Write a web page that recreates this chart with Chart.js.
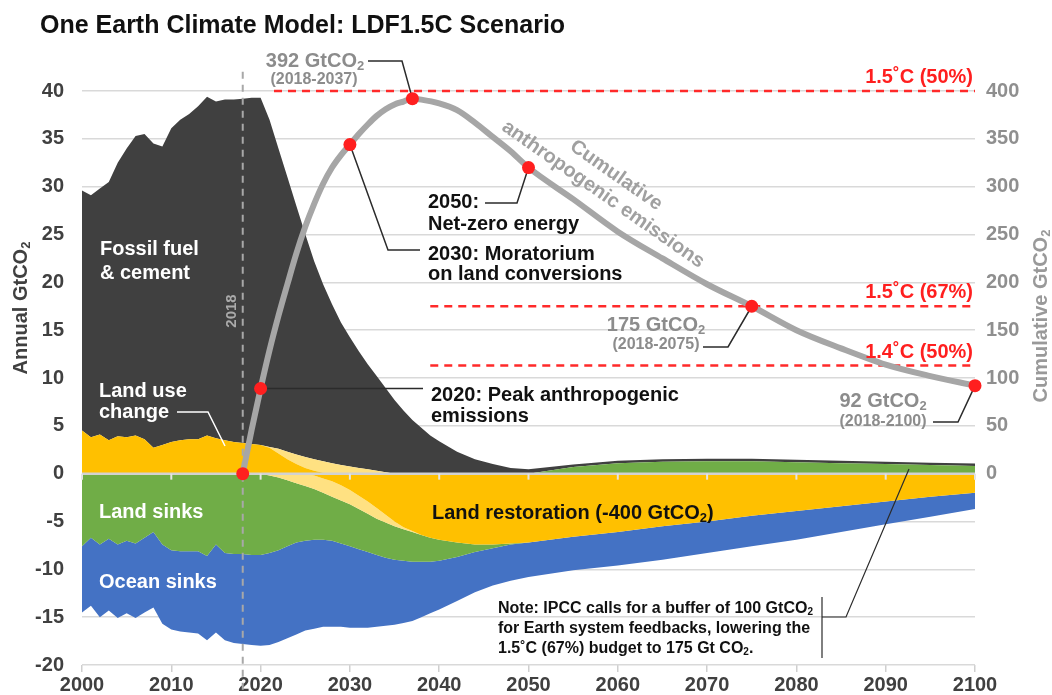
<!DOCTYPE html>
<html>
<head>
<meta charset="utf-8">
<title>One Earth Climate Model: LDF1.5C Scenario</title>
<script src="https://cdn.jsdelivr.net/npm/chart.js@4.4.1/dist/chart.umd.min.js"></script>
<style>
  html, body { margin: 0; padding: 0; background: #fff; }
  #wrap { position: relative; width: 1052px; height: 695px; }
</style>
</head>
<body>
<div id="wrap"><canvas id="climateChart"></canvas></div>
<script>
// ---- data (annual GtCO2) ----
const years = [2000, 2001, 2002, 2003, 2004, 2005, 2006, 2007, 2008, 2009,
  2010, 2011, 2012, 2013, 2014, 2015, 2016, 2017, 2018, 2019,
  2020, 2021, 2022, 2023, 2024, 2025, 2026, 2027, 2028, 2029,
  2030, 2031, 2032, 2033, 2034, 2035, 2036, 2037, 2038, 2039,
  2040, 2042, 2044, 2046, 2048, 2050,
  2055, 2060, 2065, 2070, 2075, 2080, 2085, 2090, 2095, 2100];

const fossil = [25.1, 25.3, 25.7, 27.0, 28.6, 30.2, 31.3, 31.9, 31.8, 31.2,
  32.8, 33.5, 34.0, 34.8, 35.4, 35.2, 35.6, 35.8, 36.0, 36.2,
  36.3, 34.2, 31.4, 28.7, 26.0, 23.3, 20.7, 18.5, 16.6, 14.9,
  13.5, 12.2, 11.0, 9.9, 8.8, 7.7, 6.6, 5.6, 4.8, 4.0,
  3.4, 2.3, 1.5, 1.0, 0.6, 0.45,
  0.25, 0.25, 0.25, 0.25, 0.25, 0.25, 0.25, 0.25, 0.25, 0.25];

const landUse = [4.5, 3.8, 4.1, 3.5, 3.9, 3.8, 4.0, 3.6, 2.7, 3.0,
  3.3, 3.5, 3.6, 3.6, 4.0, 3.7, 3.5, 3.3, 3.2, 3.1,
  3.0, 2.7, 2.1, 1.5, 1.0, 0.6, 0.3, 0.1, 0, 0,
  0, 0, 0, 0, 0, 0, 0, 0, 0, 0,
  0, 0, 0, 0, 0, 0,
  0, 0, 0, 0, 0, 0, 0, 0, 0, 0];

const landUsePhaseOut = [0, 0, 0, 0, 0, 0, 0, 0, 0, 0,
  0, 0, 0, 0, 0, 0, 0, 0, 0, 0,
  0, 0.1, 0.5, 0.8, 1.0, 1.15, 1.2, 1.2, 1.1, 0.9,
  0.75, 0.6, 0.45, 0.3, 0.15, 0, 0, 0, 0, 0,
  0, 0, 0, 0, 0, 0,
  0, 0, 0, 0, 0, 0, 0, 0, 0, 0];

const landGain = [0, 0, 0, 0, 0, 0, 0, 0, 0, 0,
  0, 0, 0, 0, 0, 0, 0, 0, 0, 0,
  0, 0, 0, 0, 0, 0, 0, 0, 0, 0,
  0, 0, 0, 0, 0, 0, 0, 0, 0, 0,
  0, 0, 0, 0, 0, 0,
  0.7, 1.1, 1.25, 1.3, 1.3, 1.2, 1.1, 1.0, 0.9, 0.8];

const restoration = [0, 0, 0, 0, 0, 0, 0, 0, 0, 0,
  0, 0, 0, 0, 0, 0, 0, 0, 0, 0,
  0, 0, 0, 0, 0, 0, -0.2, -0.5, -0.8, -1.2,
  -1.7, -2.3, -2.9, -3.6, -4.3, -5.0, -5.6, -6.0, -6.4, -6.7,
  -6.9, -7.2, -7.4, -7.4, -7.3, -7.2,
  -6.6, -6.1, -5.5, -5.0, -4.4, -3.9, -3.4, -2.9, -2.4, -2.0];

const restorationRamp = [0, 0, 0, 0, 0, 0, 0, 0, 0, 0,
  0, 0, 0, 0, 0, 0, 0, 0, 0, 0,
  0, -0.2, -0.4, -0.7, -1.0, -1.3, -1.4, -1.5, -1.6, -1.6,
  -1.5, -1.4, -1.3, -1.1, -0.8, -0.5, -0.2, -0.1, 0, 0,
  0, 0, 0, 0, 0, 0,
  0, 0, 0, 0, 0, 0, 0, 0, 0, 0];

const landSink = [-7.6, -6.7, -7.4, -6.8, -7.4, -7.0, -7.3, -6.7, -6.1, -7.4,
  -8.0, -8.1, -8.1, -8.1, -8.6, -7.4, -8.3, -8.4, -8.4, -8.5,
  -8.5, -8.1, -7.6, -6.9, -6.2, -5.7, -5.3, -4.9, -4.6, -4.5,
  -4.4, -4.2, -4.0, -3.8, -3.7, -3.5, -3.3, -3.1, -2.8, -2.5,
  -2.2, -1.5, -0.8, -0.4, -0.1, 0,
  0, 0, 0, 0, 0, 0, 0, 0, 0, 0];

const oceanSink = [-6.9, -7.1, -7.6, -7.5, -7.7, -7.6, -7.8, -7.8, -7.9, -8.3,
  -8.3, -8.4, -8.5, -8.6, -8.8, -9.2, -9.1, -9.3, -9.4, -9.4,
  -9.5, -9.6, -9.6, -9.6, -9.6, -9.4, -9.3, -9.1, -9.0, -8.7,
  -8.5, -8.2, -7.9, -7.5, -7.1, -6.8, -6.5, -6.2, -5.8, -5.4,
  -5.1, -4.6, -4.2, -3.9, -3.8, -3.6,
  -3.5, -3.5, -3.5, -3.3, -3.2, -3.0, -2.7, -2.4, -2.1, -1.7];

// cumulative anthropogenic emissions since 2018 (right axis)
const cumYears = [2018, 2019, 2020, 2021, 2022, 2023, 2024, 2025, 2026, 2027,
  2028, 2029, 2030, 2031, 2032, 2033, 2034, 2035, 2036, 2037, 2038,
  2040, 2042, 2044, 2046, 2048, 2050,
  2055, 2060, 2065, 2070, 2075, 2080, 2085, 2090, 2095, 2100];
const cumEmissions = [0, 46, 89, 129, 165, 198, 230, 258, 282, 303,
  320, 333, 344, 355, 365, 374, 381, 386, 389, 392, 391,
  387, 380, 367, 352, 337, 320,
  287, 253, 225, 198, 175, 150, 131, 114, 102, 92];

const markerYears = [2018, 2020, 2030, 2037, 2050, 2075, 2100];
const markerValues = [0, 89, 344, 392, 320, 175, 92];

const budgetLevels = [400, 175, 113];
const budgetFrom = [2021.5, 2039, 2039];
const budgetLabels = ['1.5˚C (50%)', '1.5˚C (67%)', '1.4˚C (50%)'];

// ---- helpers ----
const FONT = '"Liberation Sans", Arial, Helvetica, sans-serif';
Chart.defaults.font.family = FONT;

function series(values) {
  return years.map((yr, i) => ({ x: yr, y: values[i] }));
}
function addLayers(...layers) {
  return years.map((_, i) => layers.reduce((s, l) => s + l[i], 0));
}
function area(label, values, color, target) {
  return {
    type: 'line', label, data: series(values), backgroundColor: color,
    borderWidth: 0, pointRadius: 0, fill: target, order: 10, yAxisID: 'y'
  };
}

// text with a subscript "2" wherever ₂ appears; y is the cap-height centre
function drawText(ctx, str, x, y, o) {
  const size = o.size;
  const main = `bold ${size}px ${FONT}`;
  const small = `bold ${Math.round(size * 0.65)}px ${FONT}`;
  const parts = str.split('₂');
  ctx.font = main;
  const widths = parts.map(p => ctx.measureText(p).width);
  ctx.font = small;
  const subW = ctx.measureText('2').width;
  const total = widths.reduce((a, b) => a + b, 0) + subW * (parts.length - 1);
  ctx.save();
  ctx.translate(x, y);
  if (o.angle) ctx.rotate(o.angle * Math.PI / 180);
  let cx = o.align === 'center' ? -total / 2 : o.align === 'right' ? -total : 0;
  const base = size * 0.36;
  ctx.fillStyle = o.color;
  ctx.textAlign = 'left';
  ctx.textBaseline = 'alphabetic';
  parts.forEach((p, i) => {
    ctx.font = main;
    ctx.fillText(p, cx, base);
    cx += widths[i];
    if (i < parts.length - 1) {
      ctx.font = small;
      ctx.fillText('2', cx, base + size * 0.16);
      cx += subW;
    }
  });
  ctx.restore();
}
function polyline(ctx, pts, color, width) {
  ctx.save();
  ctx.strokeStyle = color;
  ctx.lineWidth = width;
  ctx.beginPath();
  pts.forEach((p, i) => (i ? ctx.lineTo(p[0], p[1]) : ctx.moveTo(p[0], p[1])));
  ctx.stroke();
  ctx.restore();
}

const annotate = {
  id: 'annotate',
  beforeDatasetDraw(chart, args) {
    if (args.index !== 0) return;
    const ctx = chart.ctx;
    const d = i => chart.getDatasetMeta(0).data[i];
    const lead = '#2b2b2b';
    polyline(ctx, [[d(1).x, d(1).y], [423, d(1).y]], lead, 1.5);
    polyline(ctx, [[d(2).x, d(2).y], [388, 250], [420, 250]], lead, 1.5);
    polyline(ctx, [[d(3).x, d(3).y], [402, 61], [368, 61]], lead, 1.5);
    polyline(ctx, [[d(4).x, d(4).y], [517, 203], [485, 203]], lead, 1.5);
    polyline(ctx, [[d(5).x, d(5).y], [728, 347], [703, 347]], lead, 1.5);
    polyline(ctx, [[d(6).x, d(6).y], [958, 422], [933, 422]], lead, 1.5);
    polyline(ctx, [[909, 469], [846, 617], [822, 617]], lead, 1.2);
    polyline(ctx, [[822, 597], [822, 658]], lead, 1.2);
    polyline(ctx, [[177, 412], [208, 412], [225, 446]], '#ffffff', 1.5);
  },
  afterDatasetsDraw(chart) {
    const ctx = chart.ctx;
    const xs = chart.scales.x, yl = chart.scales.y, yr = chart.scales.y2;

    // small decade marks under the zero line
    const y0 = yl.getPixelForValue(0);
    for (let yr0 = 2000; yr0 <= 2100; yr0 += 10) {
      const px = xs.getPixelForValue(yr0);
      polyline(ctx, [[px, y0], [px, y0 + 6]], '#e4e4e4', 2);
    }

    drawText(ctx, 'One Earth Climate Model: LDF1.5C Scenario', 40, 24, { size: 25, color: '#111', align: 'left' });
    drawText(ctx, 'Annual GtCO₂', 20, 308, { size: 20, color: '#404040', align: 'center', angle: -90 });
    drawText(ctx, 'Cumulative GtCO₂', 1040, 316, { size: 20, color: '#999', align: 'center', angle: -90 });
    drawText(ctx, '2018', 231, 311, { size: 15, color: '#aaa', align: 'center', angle: -90 });

    const white = { size: 20, color: '#fff', align: 'left' };
    drawText(ctx, 'Fossil fuel', 100, 248, white);
    drawText(ctx, '& cement', 100, 272, white);
    drawText(ctx, 'Land use', 99, 390, white);
    drawText(ctx, 'change', 99, 411, white);
    drawText(ctx, 'Land sinks', 99, 511, white);
    drawText(ctx, 'Ocean sinks', 99, 581, white);

    const black = { size: 20, color: '#111', align: 'left' };
    drawText(ctx, '2050:', 428, 201, black);
    drawText(ctx, 'Net-zero energy', 428, 223, black);
    drawText(ctx, '2030: Moratorium', 428, 253, black);
    drawText(ctx, 'on land conversions', 428, 273, black);
    drawText(ctx, '2020: Peak anthropogenic', 431, 394, black);
    drawText(ctx, 'emissions', 431, 415, black);
    drawText(ctx, 'Land restoration (-400 GtCO₂)', 432, 512, black);

    const grey = { size: 20, color: '#8c8c8c', align: 'center' };
    const greySmall = { size: 16, color: '#8c8c8c', align: 'center' };
    drawText(ctx, '392 GtCO₂', 315, 60, grey);
    drawText(ctx, '(2018-2037)', 314, 78, greySmall);
    drawText(ctx, '175 GtCO₂', 656, 324, grey);
    drawText(ctx, '(2018-2075)', 656, 343, greySmall);
    drawText(ctx, '92 GtCO₂', 883, 400, grey);
    drawText(ctx, '(2018-2100)', 883, 420, greySmall);

    drawText(ctx, 'Cumulative', 617, 174, { size: 20, color: '#a0a0a0', align: 'center', angle: 35 });
    drawText(ctx, 'anthropogenic emissions', 604, 193, { size: 20, color: '#a0a0a0', align: 'center', angle: 35 });

    budgetLevels.forEach((lvl, i) => {
      drawText(ctx, budgetLabels[i], 973, yr.getPixelForValue(lvl) - 15, { size: 20, color: '#ff1f1f', align: 'right' });
    });

    const note = { size: 16, color: '#111', align: 'left' };
    drawText(ctx, 'Note: IPCC calls for a buffer of 100 GtCO₂', 498, 607, note);
    drawText(ctx, 'for Earth system feedbacks, lowering the', 498, 627, note);
    drawText(ctx, '1.5˚C (67%) budget to 175 Gt CO₂.', 498, 647, note);
  }
};

// ---- datasets ----
const datasets = [
  {
    type: 'line', label: 'milestones',
    data: markerYears.map((x, i) => ({ x, y: markerValues[i] })),
    showLine: false, pointRadius: 6.5, pointBackgroundColor: '#ff1f1f',
    pointBorderWidth: 0, clip: false, yAxisID: 'y2', order: 0
  },
  {
    type: 'line', label: 'Cumulative anthropogenic emissions',
    data: cumYears.map((x, i) => ({ x, y: cumEmissions[i] })),
    borderColor: '#a6a6a6', borderWidth: 6, pointRadius: 0,
    cubicInterpolationMode: 'monotone', fill: false, yAxisID: 'y2', order: 1
  },
  {
    type: 'line', label: '2018',
    data: [{ x: 2018, y: 42 }, { x: 2018, y: -23.5 }],
    borderColor: '#a8a8a8', borderWidth: 2, borderDash: [7, 6],
    pointRadius: 0, fill: false, clip: false, yAxisID: 'y', order: 2
  },
  ...budgetLevels.map((lvl, i) => ({
    type: 'line', label: budgetLabels[i],
    data: [{ x: budgetFrom[i], y: lvl }, { x: 2100, y: lvl }],
    borderColor: '#ff2a2a', borderWidth: 2.5, borderDash: [8, 6],
    pointRadius: 0, fill: false, clip: false, yAxisID: 'y2', order: 3
  })),
  {
    type: 'line', label: 'zero',
    data: [{ x: 2000, y: 0 }, { x: 2100, y: 0 }],
    borderColor: '#d2d2d2', borderWidth: 2.5, pointRadius: 0,
    fill: false, yAxisID: 'y', order: 4
  }
];
const first = datasets.length; // index of first area dataset
datasets.push(
  area('Land use change', landUse, '#ffc000', 'origin'),
  area('Land use phase-out', addLayers(landUse, landUsePhaseOut), '#ffe182', first),
  area('Land net gain', addLayers(landUse, landUsePhaseOut, landGain), '#70ad47', first + 1),
  area('Fossil fuel & cement', addLayers(landUse, landUsePhaseOut, landGain, fossil), '#404040', first + 2),
  area('Land restoration', restoration, '#ffc000', 'origin'),
  area('Restoration ramp-up', addLayers(restoration, restorationRamp), '#ffe182', first + 4),
  area('Land sinks', addLayers(restoration, restorationRamp, landSink), '#70ad47', first + 5),
  area('Ocean sinks', addLayers(restoration, restorationRamp, landSink, oceanSink), '#4472c4', first + 6)
);

new Chart(document.getElementById('climateChart').getContext('2d'), {
  type: 'line',
  data: { datasets },
  options: {
    responsive: true,
    maintainAspectRatio: false,
    animation: false,
    events: [],
    layout: { padding: { top: 91, left: 0, right: 0, bottom: 0 } },
    plugins: { legend: { display: false }, tooltip: { enabled: false } },
    scales: {
      x: {
        type: 'linear', min: 2000, max: 2100,
        ticks: { stepSize: 10, padding: 1, color: '#404040', font: { size: 20, weight: 'bold' }, callback: v => String(v) },
        grid: { drawOnChartArea: false, drawTicks: true, tickLength: 7, color: '#cfcfcf', lineWidth: 1.5 },
        border: { display: false },
        afterFit: s => { s.height = 30; }
      },
      y: {
        position: 'left', min: -20, max: 40,
        ticks: { stepSize: 5, padding: 18, color: '#404040', font: { size: 20, weight: 'bold' } },
        grid: { color: '#d9d9d9', lineWidth: 1.5, drawTicks: false },
        border: { display: false },
        afterFit: s => { s.width = 82; }
      },
      y2: {
        position: 'right', min: -200, max: 400,
        ticks: { stepSize: 50, padding: 11, color: '#8f8f8f', font: { size: 20, weight: 'bold' }, callback: v => (v >= 0 ? v : '') },
        grid: { drawOnChartArea: false, drawTicks: false },
        border: { display: false },
        afterFit: s => { s.width = 77; }
      }
    }
  },
  plugins: [annotate]
});
</script>
</body>
</html>
